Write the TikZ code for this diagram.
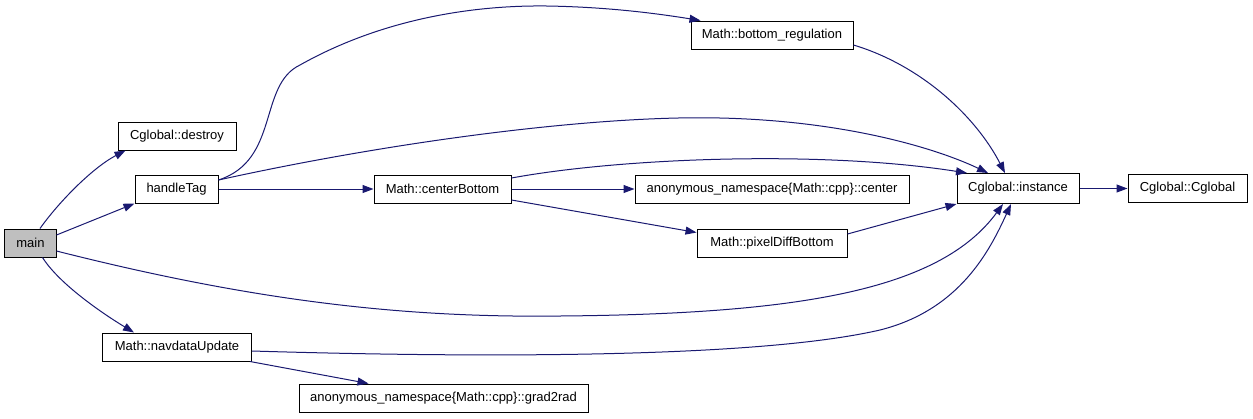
\documentclass[tikz,border=0pt]{standalone}
\usepackage{fontspec}
\setmainfont{Liberation Sans}
\usetikzlibrary{arrows.meta,positioning}
\definecolor{edgeblue}{RGB}{25,25,112}
\definecolor{maingray}{RGB}{191,191,191}

\begin{document}
\begin{tikzpicture}[x=1bp,y=1bp,>={Triangle[length=11bp,width=8bp,fill=edgeblue]},
    fn/.style={draw=black,line width=1bp,fill=white,minimum height=28bp,inner sep=0pt,
      font=\fontsize{13bp}{15bp}\selectfont},
    call/.style={->,draw=edgeblue,line width=1bp}]
  \useasboundingbox (0,0) rectangle (1253,-418);
  % nodes
  \node[fn,fill=maingray,minimum width=51bp] (main) at (30.5,-243) {main};
  \node[fn,minimum width=118bp] (destroy) at (177,-136) {Cglobal::destroy};
  \node[fn,minimum width=83bp] (handleTag) at (176.5,-189) {handleTag};
  \node[fn,minimum width=149bp] (navdataUpdate) at (177,-347) {Math::navdataUpdate};
  \node[fn,minimum width=289bp] (grad2rad) at (443.5,-398) {anonymous\_namespace\{Math::cpp\}::grad2rad};
  \node[fn,minimum width=162bp] (bottomReg) at (772,-35) {Math::bottom\_regulation};
  \node[fn,minimum width=137bp] (centerBottom) at (442.5,-189) {Math::centerBottom};
  \node[fn,minimum width=274bp] (center) at (772,-189) {anonymous\_namespace\{Math::cpp\}::center};
  \node[fn,minimum width=150bp] (pixelDiff) at (772,-243) {Math::pixelDiffBottom};
  \node[fn,minimum width=122bp,minimum height=30bp] (instance) at (1018,-188.5) {Cglobal::instance};
  \node[fn,minimum width=119bp] (cglobal) at (1187.5,-188.5) {Cglobal::Cglobal};
  % calls from main
  \draw[call] ([xshift=9.5bp]main.north) .. controls (58,-203) and (92,-168) .. ([xshift=8bp]destroy.south west);
  \draw[call] ([yshift=8bp]main.east) -- (handleTag.south west);
  \draw[call] ([yshift=-8bp]main.east) .. controls (250,-300) and (400,-318) .. (560,-316)
    .. controls (800,-314) and (940,-290) .. ([xshift=-15bp]instance.south);
  \draw[call] ([xshift=12bp]main.south) .. controls (60,-285) and (105,-315) .. ([xshift=-43bp]navdataUpdate.north);
  % calls from handleTag
  \draw[call] ([yshift=9bp]handleTag.east) .. controls (280,-160) and (258,-85) .. (300,-65)
    .. controls (380,-20) and (470,-5) .. (547,-6) .. controls (610,-7) and (660,-14) .. ([xshift=10bp]bottomReg.north west);
  \draw[call] ([yshift=9bp]handleTag.east) .. controls (400,-140) and (600,-115) .. (720,-118)
    .. controls (850,-121) and (940,-150) .. ([xshift=-30bp]instance.north);
  \draw[call] (handleTag.east) -- (centerBottom.west);
  % calls from centerBottom
  \draw[call] ([yshift=11bp]centerBottom.east) .. controls (620,-158) and (820,-150) .. ([xshift=-51bp]instance.north);
  \draw[call] (centerBottom.east) -- (center.west);
  \draw[call] ([yshift=-11bp]centerBottom.east) -- ([yshift=-4bp]pixelDiff.north west);
  \draw[call] ([yshift=9bp]pixelDiff.east) -- (instance.south west);
  \draw[call] ([yshift=-10bp]bottomReg.east) .. controls (920,-65) and (975,-115) .. ([xshift=-13bp]instance.north);
  % calls from navdataUpdate
  \draw[call] ([yshift=-4bp]navdataUpdate.east) .. controls (450,-357) and (750,-360) .. (880,-330)
    .. controls (960,-310) and (990,-250) .. ([xshift=-7bp]instance.south);
  \draw[call] ([xshift=-2bp]navdataUpdate.south east) -- ([xshift=-75bp]grad2rad.north);
  \draw[call] (instance.east) -- (cglobal.west);
\end{tikzpicture}
\end{document}
